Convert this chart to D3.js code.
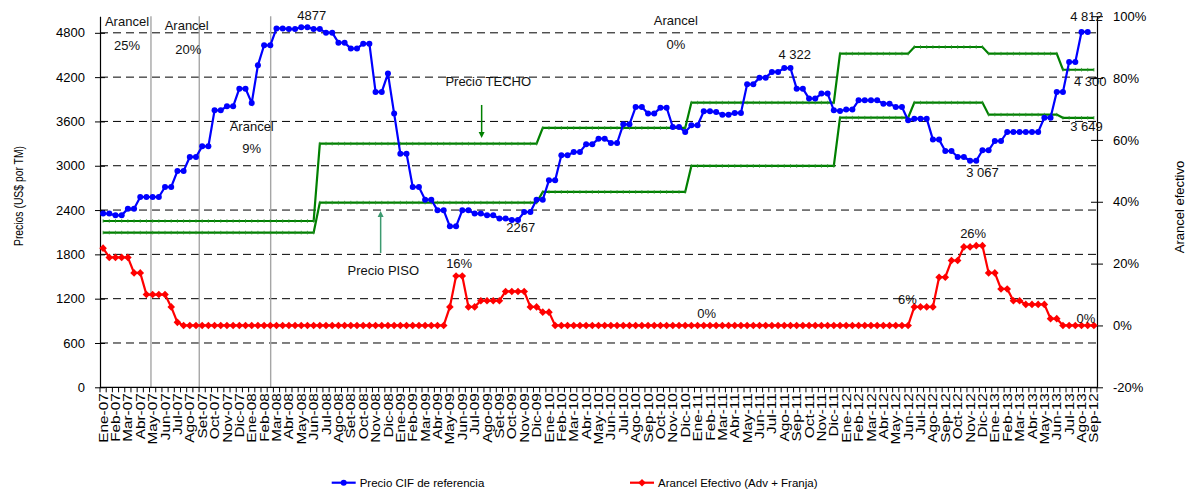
<!DOCTYPE html>
<html><head><meta charset="utf-8">
<script src="https://cdn.jsdelivr.net/npm/d3@7/dist/d3.min.js"></script>
<style>
body{margin:0;background:#fff}
svg{font-family:"Liberation Sans",Arial,sans-serif}
</style>
</head><body>
<svg id="c" width="1197" height="496"></svg>
<script>
// ---------------- DATA ----------------
const monthLabels = [
"Ene-07","Feb-07","Mar-07","Abr-07","May-07","Jun-07","Jul-07","Ago-07","Set-07","Oct-07","Nov-07","Dic-07",
"Ene-08","Feb-08","Mar-08","Abr-08","May-08","Jun-08","Jul-08","Ago-08","Set-08","Oct-08","Nov-08","Dic-08",
"Ene-09","Feb-09","Mar-09","Abr-09","May-09","Jun-09","Jul-09","Ago-09","Set-09","Oct-09","Nov-09","Dic-09",
"Ene-10","Feb-10","Mar-10","Abr-10","May-10","Jun-10","Jul-10","Ago-10","Sep-10","Oct-10","Nov-10","Dic-10",
"Ene-11","Feb-11","Mar-11","Abr-11","May-11","Jun-11","Jul-11","Ago-11","Sep-11","Oct-11","Nov-11","Dic-11",
"Ene-12","Feb-12","Mar-12","Abr-12","May-12","Jun-12","Jul-12","Ago-12","Sep-12","Oct-12","Nov-12","Dic-12",
"Ene-13","Feb-13","Mar-13","Abr-13","May-13","Jun-13","Jul-13","Ago-13","Sep-12"];

// semi-monthly (quincenal) reference CIF price, US$/TM (last fortnight not available)
const precioCIF = [
2352,2352,2329,2329,2419,2419,2577,2577,2577,2577,2712,2712,2929,2929,3119,3119,3263,3263,3751,3751,
3805,3805,4044,4044,3850,4360,4631,4631,4860,4860,4850,4850,4877,4877,4850,4850,4802,4802,4667,4667,
4586,4586,4653,4653,3999,3999,4248,3706,3164,3164,2712,2712,2541,2541,2397,2397,2180,2180,2397,2397,
2352,2352,2329,2329,2284,2284,2267,2267,2374,2374,2541,2541,2803,2803,3141,3141,3186,3186,3290,3290,
3367,3367,3308,3308,3561,3561,3795,3795,3706,3706,3786,3786,3525,3525,3457,3548,3548,3737,3737,3728,
3692,3692,3715,3715,4103,4103,4193,4193,4270,4270,4322,4322,4044,4044,3909,3909,3977,3977,3751,3742,
3760,3760,3886,3886,3886,3886,3841,3841,3795,3795,3615,3638,3638,3638,3354,3354,3200,3200,3119,3119,
3067,3067,3209,3209,3335,3335,3457,3457,3457,3457,3457,3457,3651,3651,3999,3999,4405,4405,4812,4812];

// effective tariff (ad valorem + franja), %
const arancelEfectivo = [
25,22,22,22,22,17,17,10,10,10,10,6,1,0,0,0,0,0,0,0,
0,0,0,0,0,0,0,0,0,0,0,0,0,0,0,0,0,0,0,0,
0,0,0,0,0,0,0,0,0,0,0,0,0,0,0,0,6,16,16,6,
6,8,8,8,8,11,11,11,11,6,6,4.3,4.3,0,0,0,0,0,0,0,
0,0,0,0,0,0,0,0,0,0,0,0,0,0,0,0,0,0,0,0,
0,0,0,0,0,0,0,0,0,0,0,0,0,0,0,0,0,0,0,0,
0,0,0,0,0,0,0,0,0,0,0,6,6,6,6,15.6,15.6,21,21,25.4,
25.4,25.8,25.8,17,17,11.8,11.8,8,8,6.8,6.8,6.8,6.8,2.2,2.2,0,0,0,0,0,
0];

// price band: ceiling (techo) and floor (piso), US$/TM
const precioTecho = [
2252,2252,2252,2252,2252,2252,2252,2252,2252,2252,2252,2252,2252,2252,2252,2252,2252,2252,2252,2252,
2252,2252,2252,2252,2252,2252,2252,2252,2252,2252,2252,2252,2252,2252,2252,3299,3299,3299,3299,3299,
3299,3299,3299,3299,3299,3299,3299,3299,3299,3299,3299,3299,3299,3299,3299,3299,3299,3299,3299,3299,
3299,3299,3299,3299,3299,3299,3299,3299,3299,3299,3299,3512,3512,3512,3512,3512,3512,3512,3512,3512,
3512,3512,3512,3512,3512,3512,3512,3512,3512,3512,3512,3512,3512,3512,3512,3855,3855,3855,3855,3855,
3855,3855,3855,3855,3855,3855,3855,3855,3855,3855,3855,3855,3855,3855,3855,3855,3855,3855,3855,4518,
4518,4518,4518,4518,4518,4518,4518,4518,4518,4518,4518,4608,4608,4608,4608,4608,4608,4608,4608,4608,
4608,4608,4608,4518,4518,4518,4518,4518,4518,4518,4518,4518,4518,4518,4518,4300,4300,4300,4300,4300,
4300];
const precioPiso = [
2095,2095,2095,2095,2095,2095,2095,2095,2095,2095,2095,2095,2095,2095,2095,2095,2095,2095,2095,2095,
2095,2095,2095,2095,2095,2095,2095,2095,2095,2095,2095,2095,2095,2095,2095,2501,2501,2501,2501,2501,
2501,2501,2501,2501,2501,2501,2501,2501,2501,2501,2501,2501,2501,2501,2501,2501,2501,2501,2501,2501,
2501,2501,2501,2501,2501,2501,2501,2501,2501,2501,2501,2645,2645,2645,2645,2645,2645,2645,2645,2645,
2645,2645,2645,2645,2645,2645,2645,2645,2645,2645,2645,2645,2645,2645,2645,2997,2997,2997,2997,2997,
2997,2997,2997,2997,2997,2997,2997,2997,2997,2997,2997,2997,2997,2997,2997,2997,2997,2997,2997,3651,
3651,3651,3651,3651,3651,3651,3651,3651,3651,3651,3651,3855,3855,3855,3855,3855,3855,3855,3855,3855,
3855,3855,3855,3692,3692,3692,3692,3692,3692,3692,3692,3692,3692,3692,3692,3649,3649,3649,3649,3649,
3649];

const leftTicks = [0,600,1200,1800,2400,3000,3600,4200,4800];
const rightTicks = [-20,0,20,40,60,80,100];
const legendLabels = ["Precio CIF de referencia","Arancel Efectivo (Adv + Franja)"];

// ---------------- ANNOTATIONS (placement) ----------------
const separators = [7.73, 15.53, 27.06];   // fortnight index of the tariff-regime lines
const notes = [   // [text, fortnight index, value on left axis]
 ["Arancel",3.86,4951],["25%",3.86,4635],
 ["Arancel",13.5,4906],["20%",13.76,4577],
 ["Arancel",24.0,3538],["9%",24.0,3236],
 ["Arancel",92.5,4964],["0%",92.5,4644],
 ["4877",33.68,5041],["Precio TECHO",62.2,4138],["2267",67.43,2161],
 ["4 322",111.7,4509],["4 812",158.8,5018],["4 300",159.4,4148],["3 649",158.8,3529],["3 067",142.0,2911],
 ["26%",140.5,2085],["Precio PISO",45.24,1579],["16%",57.5,1679],["0%",97.46,1002],["6%",129.9,1192],["0%",158.7,934]
];

// ---------------- CHART ----------------
const svg = d3.select("#c");
const N = arancelEfectivo.length;   // 161 fortnights
const L = 100, R = 1097, B = 387.3, T = 16.2;
const x = d3.scaleBand().domain(d3.range(N)).range([L, R]);
const xc = i => x(i) + x.bandwidth()/2;
const xf = d3.scaleLinear().domain([0, N-1]).range([xc(0), xc(N-1)]);
const yL = d3.scaleLinear().domain([0, 5025]).range([B, T]);
const yR = d3.scaleLinear().domain([-20, 100]).range([B, T]);

// gridlines
svg.append("g").selectAll("line").data(leftTicks.filter(d=>d>0)).join("line")
  .attr("x1", L).attr("x2", R).attr("y1", d=>yL(d)).attr("y2", d=>yL(d))
  .attr("stroke", "#000").attr("stroke-width", 1).attr("stroke-dasharray", "8,5");

// vertical separators
svg.append("g").selectAll("line").data(separators).join("line")
  .attr("x1", d=>xf(d)).attr("x2", d=>xf(d))
  .attr("y1", T).attr("y2", B).attr("stroke", "#a6a6a6").attr("stroke-width", 1.4);

// axes
const gL = svg.append("g").attr("transform", `translate(${L},0)`)
  .call(d3.axisLeft(yL).tickValues(leftTicks).tickFormat(d3.format("d")).tickSizeOuter(0).tickPadding(9));
gL.selectAll(".tick line").attr("x1", 5).attr("x2", -5);
const gR = svg.append("g").attr("transform", `translate(${R},0)`)
  .call(d3.axisRight(yR).tickValues(rightTicks).tickFormat(d=>d+"%").tickSizeOuter(0).tickPadding(10));
gR.selectAll(".tick line").attr("x1", -6).attr("x2", 6);
[gL,gR].forEach(g=>{
  g.select(".domain").attr("stroke","#000").attr("stroke-width",1.2);
  g.selectAll(".tick line").attr("stroke","#000");
  g.selectAll("text").attr("font-size",13).attr("fill","#000").attr("font-family","Liberation Sans, Arial, sans-serif");
});

// x axis
svg.append("line").attr("x1", L).attr("x2", R).attr("y1", B).attr("y2", B).attr("stroke","#000").attr("stroke-width",1.2);
svg.append("g").selectAll("line").data(d3.range(N+1)).join("line")
  .attr("x1", d=> d<N ? x(d) : R).attr("x2", d=> d<N ? x(d) : R)
  .attr("y1", B).attr("y2", B+5).attr("stroke","#000").attr("stroke-width",1);
svg.append("g").selectAll("text").data(monthLabels).join("text")
  .attr("transform", (d,k)=>`translate(${xc(k*2)},${B+6}) rotate(-90) scale(1.18,1)`)
  .attr("text-anchor","end").attr("dy","0.35em").attr("font-size",13).text(d=>d);

// axis titles
svg.append("text").attr("transform","translate(18,196) rotate(-90)").attr("text-anchor","middle")
  .attr("dy","0.35em").attr("font-size",13).attr("textLength",100).attr("lengthAdjust","spacingAndGlyphs")
  .text("Precios (US$ por TM)");
svg.append("text").attr("transform","translate(1179,207) rotate(-90)").attr("text-anchor","middle")
  .attr("dy","0.35em").attr("font-size",13).text("Arancel efectivo");

// price band lines
const bandLine = d3.line().x((d,i)=>xc(i)).y(d=>yL(d));
[precioTecho, precioPiso].forEach(arr=>{
  svg.append("path").attr("d", bandLine(arr)).attr("fill","none").attr("stroke","#008000").attr("stroke-width",2.2);
  svg.append("g").selectAll("line").data(arr).join("line")
    .attr("x1",(d,i)=>xc(i)).attr("x2",(d,i)=>xc(i)).attr("y1",d=>yL(d)-1.8).attr("y2",d=>yL(d)+1.8)
    .attr("stroke","#2f8f2f").attr("stroke-width",0.8);
});

// CIF price
svg.append("path").attr("d", d3.line().x((d,i)=>xc(i)).y(d=>yL(d))(precioCIF))
  .attr("fill","none").attr("stroke","#0000ff").attr("stroke-width",2.2);
svg.append("g").selectAll("circle").data(precioCIF).join("circle")
  .attr("cx",(d,i)=>xc(i)).attr("cy",d=>yL(d)).attr("r",3).attr("fill","#0000ff");

// effective tariff
const diamond = "M0,-3.8L3.8,0L0,3.8L-3.8,0Z";
svg.append("path").attr("d", d3.line().x((d,i)=>xc(i)).y(d=>yR(d))(arancelEfectivo))
  .attr("fill","none").attr("stroke","#ff0000").attr("stroke-width",2.2);
svg.append("g").selectAll("path").data(arancelEfectivo).join("path")
  .attr("transform",(d,i)=>`translate(${xc(i)},${yR(d)})`).attr("d",diamond).attr("fill","#ff0000");

// annotations
svg.append("g").selectAll("text").data(notes).join("text")
  .attr("x", d=>xf(d[1])).attr("y", d=>yL(d[2])).attr("dy","0.35em")
  .attr("text-anchor","middle").attr("font-size",13).attr("fill","#111").text(d=>d[0]);

// arrows
function arrow(i, v1, v2, color){
  const X = xf(i), y1 = yL(v1), y2 = yL(v2), dir = Math.sign(y2 - y1);
  svg.append("line").attr("x1",X).attr("x2",X).attr("y1",y1).attr("y2",y2-dir*4)
    .attr("stroke",color).attr("stroke-width",1.5);
  svg.append("path").attr("d",`M${X-3},${y2-dir*6}L${X+3},${y2-dir*6}L${X},${y2}Z`).attr("fill",color);
}
arrow(61.13, 3823, 3376, "#008000");
arrow(44.82, 1819, 2387, "#3c9a70");

// legend
const lg = svg.append("g");
[[331.7, "#0000ff", "circle", legendLabels[0]], [630, "#ff0000", "diamond", legendLabels[1]]].forEach(([lx,col,sym,lab])=>{
  lg.append("line").attr("x1",lx).attr("x2",lx+24).attr("y1",482.7).attr("y2",482.7).attr("stroke",col).attr("stroke-width",2.2);
  if(sym==="circle") lg.append("circle").attr("cx",lx+12).attr("cy",482.7).attr("r",3).attr("fill",col);
  else lg.append("path").attr("transform",`translate(${lx+12},482.7)`).attr("d",diamond).attr("fill",col);
  lg.append("text").attr("x",lx+28).attr("y",482.7).attr("dy","0.35em").attr("font-size",11.5).text(lab);
});
</script>
</body></html>
